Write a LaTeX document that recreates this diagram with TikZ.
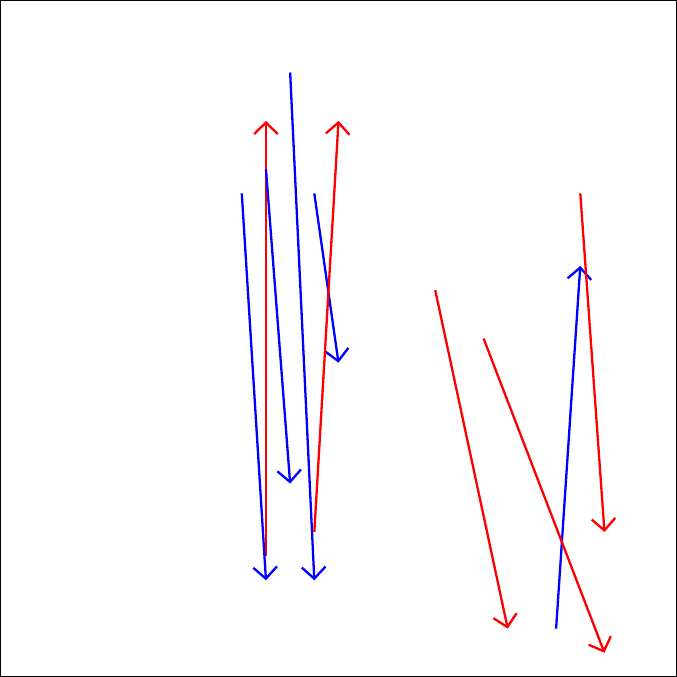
\documentclass[tikz,border=0pt]{standalone}
\usetikzlibrary{arrows.meta}
\begin{document}
\begin{tikzpicture}[x=1cm,y=1cm,
  arr/.style={line width=0.095cm, -{Straight Barb[length=0.48cm,width=0.98cm,line width=0.095cm]}},
  bl/.style={arr, blue}, rd/.style={arr, red}]
\useasboundingbox (0,0) rectangle (28,28);
\draw[line width=0.05cm] (0.025,0.025) rectangle (27.975,27.975);
\coordinate (b1s) at (10,20); \coordinate (b1e) at (11,4);
\coordinate (b2s) at (11,21); \coordinate (b2e) at (12,8);
\coordinate (b3s) at (12,25); \coordinate (b3e) at (13,4);
\coordinate (b4s) at (13,20); \coordinate (b4e) at (14,13);
\coordinate (b5s) at (23,2);  \coordinate (b5e) at (24,17);
\coordinate (r1s) at (11,5);  \coordinate (r1e) at (11,23);
\coordinate (r2s) at (13,6);  \coordinate (r2e) at (14,23);
\coordinate (r3s) at (18,16); \coordinate (r3e) at (21,2);
\coordinate (r4s) at (20,14); \coordinate (r4e) at (25,1);
\coordinate (r5s) at (24,20); \coordinate (r5e) at (25,6);
\draw[rd] (r1s) -- (r1e);
\draw[bl] (b1s) -- (b1e);
\draw[bl] (b2s) -- (b2e);
\draw[bl] (b3s) -- (b3e);
\draw[bl] (b4s) -- (b4e);
\draw[bl] (b5s) -- (b5e);
\draw[rd] (r2s) -- (r2e);
\draw[rd] (r3s) -- (r3e);
\draw[rd] (r4s) -- (r4e);
\draw[rd] (r5s) -- (r5e);
\end{tikzpicture}
\end{document}
